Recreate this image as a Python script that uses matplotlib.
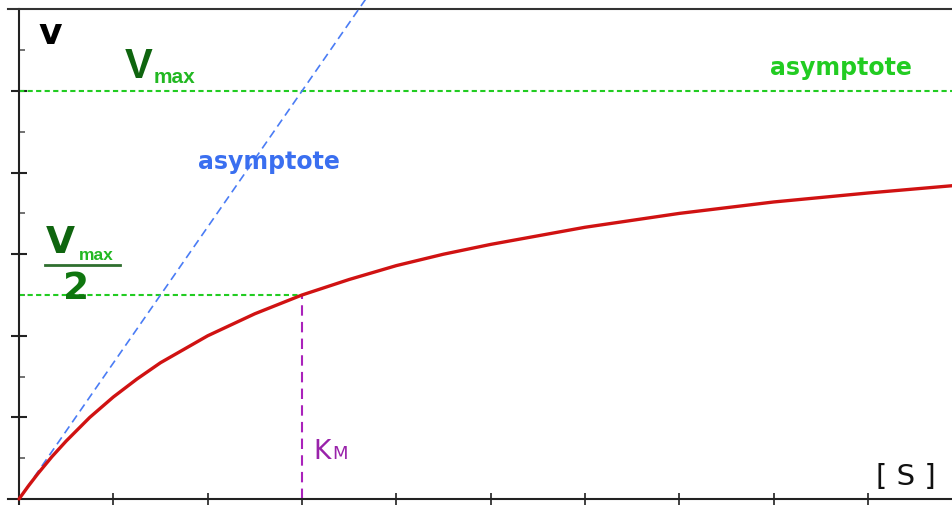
import matplotlib
matplotlib.use('Agg')
import matplotlib.pyplot as plt
from matplotlib.lines import Line2D

# ── Data ─────────────────────────────────────────────────────────────────────
# substrate concentration [S] in tick units, reaction rate v in tick units
s_values = [0, 0.1, 0.2, 0.35, 0.5, 0.75, 1, 1.25, 1.5, 2, 2.5, 3, 3.5,
            4, 4.5, 5, 6, 7, 8, 9, 9.9]
v_values = [0, 0.16, 0.31, 0.52, 0.71, 1.0, 1.25, 1.47, 1.67, 2.0, 2.27,
            2.5, 2.69, 2.86, 3.0, 3.12, 3.33, 3.5, 3.64, 3.75, 3.84]

vmax = 5.0
km = 3.0
# initial-slope asymptote (through origin and (Km, Vmax))
slope_s = [0, 3.9]
slope_v = [0, 6.5]

x_ticks = [1, 2, 3, 4, 5, 6, 7, 8, 9]
y_major = [1, 2, 3, 4, 5]
y_minor = [0.5, 1.5, 2.5, 3.5, 4.5, 5.5]

W, H = 953, 506


def px(x, y):
    """pixel position -> figure fraction (for label placement)"""
    return x / W, 1 - y / H


fig = plt.figure(figsize=(W / 100, H / 100), dpi=100)
ax = fig.add_axes([0, 0, 1, 1])
ax.set_xlim(-19 / 94.33, 934 / 94.33)
ax.set_ylim(-6 / 81.6, 500 / 81.6)

# ── Frame ────────────────────────────────────────────────────────────────────
ax.spines['right'].set_visible(False)
for side in ['left', 'bottom', 'top']:
    ax.spines[side].set_linewidth(1.5)
    ax.spines[side].set_color('#222222')
ax.spines['left'].set_position(('data', 0))
ax.spines['bottom'].set_position(('data', 0))
ax.spines['top'].set_position(('data', 6))
ax.spines['left'].set_bounds(-0.08, 6)
ax.spines['bottom'].set_bounds(-0.12, 9.9)
ax.spines['top'].set_bounds(-0.12, 9.9)
ax.spines['top'].set_color('#333333')

ax.set_xticks(x_ticks)
ax.set_yticks(y_major)
ax.set_yticks(y_minor, minor=True)
ax.set_xticklabels([])
ax.set_yticklabels([])
ax.tick_params(axis='y', which='major', direction='inout', length=12,
               width=1.5, color='#222222')
ax.tick_params(axis='y', which='minor', direction='in', length=4.5,
               width=1.3, color='#666666')
ax.tick_params(axis='x', which='major', direction='inout', length=8,
               width=1.3, color='#333333')
ax.tick_params(top=False, right=False)

# ── Guide lines ──────────────────────────────────────────────────────────────
ax.plot([0, 9.9], [vmax, vmax], color='#22cc22', lw=1.5,
        dashes=(2.5, 1.6), zorder=2)
ax.plot([0, km], [vmax / 2, vmax / 2], color='#22cc22', lw=1.5,
        dashes=(2.5, 1.6), zorder=2)
ax.plot([km, km], [0, vmax / 2], color='#aa22bb', lw=1.5,
        dashes=(5, 3), zorder=2)
ax.plot(slope_s, slope_v, color='#4a7cf5', lw=1.2,
        dashes=(5, 3), zorder=3)

# ── Michaelis–Menten curve ──────────────────────────────────────────────────
ax.plot(s_values, v_values, color='#d01212', lw=2.4, zorder=4,
        solid_capstyle='round', solid_joinstyle='round')

# ── Labels ───────────────────────────────────────────────────────────────────
bold = dict(family='DejaVu Sans', fontweight='bold', va='baseline', ha='left')
narrow = dict(family='Liberation Sans', fontweight='bold', va='baseline',
              ha='left')

fig.text(*px(38, 44), 'v', fontsize=26, color='black', **bold)

fig.text(*px(125, 78), 'V', fontsize=30, color='#0f650f', **narrow)
fig.text(*px(154, 83), 'max', fontsize=15, color='#22b822', **narrow)

fig.text(*px(46, 253), 'V', fontsize=27, color='#0f650f', **bold)
fig.text(*px(79, 260), 'max', fontsize=12.5, color='#22b822', **narrow)
fig.add_artist(Line2D([45 / W, 120 / W], [1 - 266 / H, 1 - 266 / H],
                      color='#2f6f2f', lw=2))
fig.text(*px(63, 299), '2', fontsize=27, color='#0f760f', **bold)

fig.text(*px(198, 169), 'asymptote', fontsize=17, color='#3a6ff0', **bold)
fig.text(*px(770, 75), 'asymptote', fontsize=17, color='#22cc22', **bold)

fig.text(*px(313, 459), 'K', fontsize=19, color='#9922aa',
         family='DejaVu Sans', va='baseline', ha='left')
fig.text(*px(332, 459), 'M', fontsize=13, color='#9922aa',
         family='DejaVu Sans', va='baseline', ha='left')

fig.text(*px(876, 485), '[ S ]', fontsize=21, color='#111111',
         family='DejaVu Sans', va='baseline', ha='left')

fig.savefig('out.png', dpi=100)
plt.close(fig)
